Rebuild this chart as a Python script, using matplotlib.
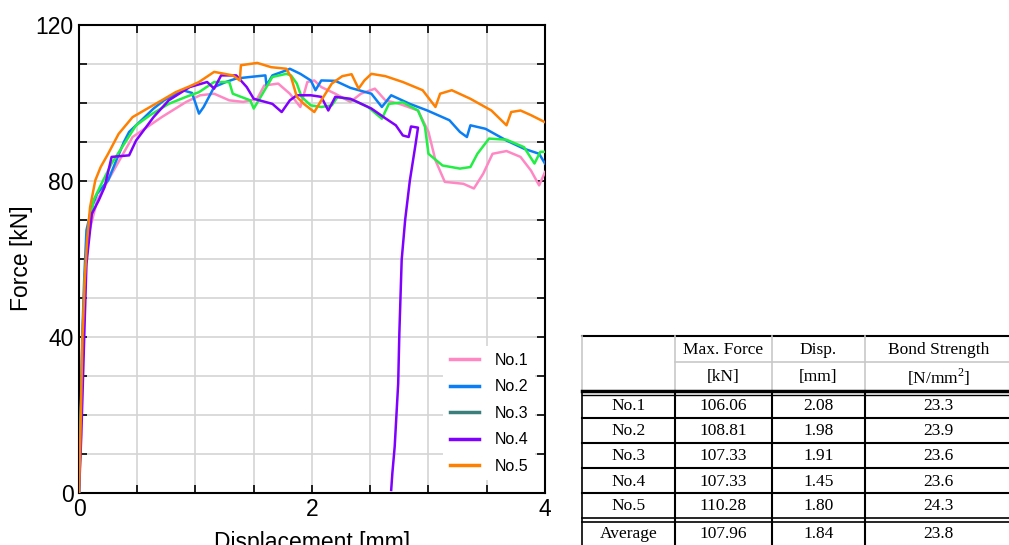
import matplotlib.pyplot as plt
from matplotlib.lines import Line2D
from matplotlib.ticker import MultipleLocator

no1_x = [0, 0.01, 0.02, 0.03, 0.05, 0.08, 0.156, 0.25, 0.46, 0.71, 0.92, 1.04, 1.16, 1.29, 1.41, 1.53, 1.59,
         1.71, 1.81, 1.90, 1.96, 2.02, 2.08, 2.20, 2.33, 2.42, 2.54, 2.63, 2.75, 2.91, 3.0, 3.06, 3.14,
         3.30, 3.39, 3.47, 3.55, 3.67, 3.79, 3.88, 3.95, 4.0]
no1_y = [0, 12, 25, 40, 55, 66, 75, 80.1, 91.2, 96.3, 100.2, 101.9, 102.3, 100.6, 100.2, 101.0, 104.4,
         104.9, 102.3, 98.9, 105.3, 105.7, 104.0, 102.3, 100.2, 102.3, 103.6, 100.6, 99.7, 98.0, 92.5, 85.2, 79.7,
         79.2, 78.0, 81.8, 86.9, 87.6, 86.1, 82.6, 78.8, 82.2]

no2_x = [0, 0.01, 0.02, 0.03, 0.045, 0.064, 0.11, 0.156, 0.25, 0.385, 0.43, 0.55, 0.64, 0.73, 0.89, 0.97,
         1.03, 1.07, 1.16, 1.26, 1.35, 1.47, 1.60, 1.61, 1.66, 1.78, 1.81, 1.90, 1.99, 2.03, 2.08, 2.20,
         2.33, 2.51, 2.60, 2.68, 2.84, 2.99, 3.18, 3.27, 3.33, 3.36, 3.49, 3.67, 3.82, 3.95, 4.0]
no2_y = [0, 14, 28, 42, 55, 67.3, 73.2, 76.7, 80.1, 89.9, 92.5, 95.9, 98.5, 100.6, 103.2, 102.5,
         97.2, 98.9, 104.0, 105.3, 106.2, 106.6, 107.0, 104.4, 107.0, 108.3, 108.7, 107.4, 105.7, 103.2, 105.7, 105.6,
         103.8, 102.3, 98.9, 101.9, 99.7, 98.0, 95.5, 92.5, 91.2, 94.2, 93.3, 90.3, 88.2, 86.9, 84.4]

no3_x = [0, 0.01, 0.02, 0.035, 0.05, 0.08, 0.125, 0.186, 0.28, 0.49, 0.61, 0.77, 0.92, 1.03, 1.16, 1.29,
         1.32, 1.47, 1.50, 1.56, 1.66, 1.78, 1.82, 1.87, 1.91, 1.99, 2.08, 2.17, 2.22, 2.36, 2.48, 2.60,
         2.66, 2.78, 2.91, 2.97, 3.0, 3.12, 3.27, 3.36, 3.42, 3.52, 3.67, 3.82, 3.91, 3.96, 4.0]
no3_y = [0, 10, 24, 40, 55, 66, 75, 78.8, 84.4, 94.2, 96.8, 99.7, 101.5, 102.7, 105.3, 105.3,
         102.3, 100.6, 98.5, 101.5, 106.6, 107.4, 107.0, 104.9, 101.5, 99.3, 98.9, 99.3, 101.5, 100.6, 98.9, 95.9,
         99.7, 100.1, 98.0, 93.8, 86.9, 83.9, 83.1, 83.5, 86.9, 90.8, 90.5, 88.6, 84.4, 87.4, 87.4]

no4_x = [0, 0.02, 0.035, 0.05, 0.064, 0.11, 0.17, 0.22, 0.28, 0.43, 0.49, 0.64, 0.77, 0.95, 1.10, 1.16,
         1.22, 1.35, 1.44, 1.50, 1.66, 1.74, 1.81, 1.87, 1.99, 2.08, 2.14, 2.20, 2.33, 2.51, 2.63, 2.72,
         2.78, 2.83, 2.85, 2.91, 2.89, 2.84, 2.80, 2.77, 2.75, 2.74, 2.71, 2.69, 2.68]
no4_y = [0, 15, 30, 45, 58.7, 71.5, 75, 78.4, 86.1, 86.5, 90.3, 96.3, 100.6, 104.0, 105.3, 103.6,
         107.0, 107.0, 104.0, 101.0, 99.7, 97.6, 100.6, 101.9, 101.9, 101.5, 98.0, 101.5, 101.0, 98.5, 96.0, 94.2,
         91.6, 91.2, 93.9, 93.6, 89.5, 80.0, 70.0, 59.7, 40.9, 28.0, 11.8, 5.0, 0.7]

no5_x = [0, 0.01, 0.02, 0.03, 0.05, 0.07, 0.095, 0.14, 0.186, 0.25, 0.34, 0.46, 0.61, 0.71, 0.83, 0.95,
         1.03, 1.16, 1.32, 1.38, 1.39, 1.53, 1.65, 1.78, 1.82, 1.87, 1.93, 2.02, 2.08, 2.17, 2.26, 2.34,
         2.40, 2.45, 2.51, 2.63, 2.78, 2.95, 3.06, 3.10, 3.20, 3.36, 3.54, 3.67, 3.71, 3.79, 3.88, 4.0]
no5_y = [0, 12, 26, 40, 55, 65, 73.2, 80.1, 83.5, 86.9, 92.0, 96.3, 98.9, 100.6, 102.7, 104.2,
         105.3, 107.9, 107.0, 105.7, 109.6, 110.2, 109.1, 108.7, 106.6, 101.5, 99.7, 97.6, 100.6, 104.9, 106.8, 107.3,
         103.6, 105.7, 107.4, 106.8, 105.3, 103.2, 98.9, 102.3, 103.2, 101.0, 98.0, 94.2, 97.6, 98.0, 96.8, 95.0]

series_names = ["No.1", "No.2", "No.3", "No.4", "No.5"]
line_colors = ["#ff88c4", "#0a7ff5", "#22ee44", "#8000ff", "#ff8000"]
legend_colors = ["#ff88c4", "#0a7ff5", "#3a7f7c", "#8000ff", "#ff8000"]

# table contents
table_header1 = ["", "Max. Force", "Disp.", "Bond Strength"]
table_header2 = ["", "[kN]", "[mm]", "[N/mm$^{\\mathregular{2}}$]"]
table_rows = ["No.1", "No.2", "No.3", "No.4", "No.5"]
max_force = ["106.06", "108.81", "107.33", "107.33", "110.28"]
disp = ["2.08", "1.98", "1.91", "1.45", "1.80"]
bond = ["23.3", "23.9", "23.6", "23.6", "24.3"]
average = ["Average", "107.96", "1.84", "23.8"]

fig = plt.figure(figsize=(10.09, 5.45), dpi=100)
ax = fig.add_axes([0.0783, 0.096, 0.4618, 0.8587])

curves = [(no1_x, no1_y), (no2_x, no2_y), (no3_x, no3_y), (no4_x, no4_y), (no5_x, no5_y)]
for (xs, ys), c in zip(curves, line_colors):
    ax.plot(xs, ys, color=c, lw=1.8, zorder=3)

ax.set_xlim(0, 4)
ax.set_ylim(0, 120)
ax.xaxis.set_major_locator(MultipleLocator(2))
ax.xaxis.set_minor_locator(MultipleLocator(0.5))
ax.yaxis.set_major_locator(MultipleLocator(40))
ax.yaxis.set_minor_locator(MultipleLocator(10))
ax.grid(which="both", color="#d4d4d4", lw=1.2, zorder=0)
ax.tick_params(which="both", direction="in", top=True, right=True, length=6, width=1.2,
               labelsize=16.5, pad=4)
for lab in ax.get_xticklabels() + ax.get_yticklabels():
    lab.set_family("Liberation Sans")
for s in ax.spines.values():
    s.set_linewidth(1.5)
ax.set_xlabel("Displacement [mm]", fontsize=16.5, family="Liberation Sans", labelpad=7)
ax.set_ylabel("Force [kN]", fontsize=16.5, family="Liberation Sans", labelpad=2)

handles = [Line2D([], [], color=c, lw=2.5) for c in legend_colors]
leg = ax.legend(handles, series_names, loc="lower right", bbox_to_anchor=(0.995, 0.01),
                frameon=True, fancybox=False, edgecolor="none", framealpha=1,
                prop={"family": "Liberation Sans", "size": 11.5}, handlelength=1.8,
                labelspacing=0.72, handletextpad=1.0)

# table drawn in pixel coordinates
tab = fig.add_axes([0, 0, 1, 1])
tab.set_xlim(0, 1009)
tab.set_ylim(545, 0)
tab.axis("off")

col_edges = [582, 675, 772, 865, 1012]
col_centers = [(a + b) / 2 for a, b in zip(col_edges[:-1], col_edges[1:])]
body_lines = [418, 443, 468, 493]
tfont = dict(family="Liberation Serif", fontsize=12.5, ha="center", va="center")

tab.plot([col_edges[0], col_edges[-1]], [336, 336], color="black", lw=1.5)
tab.plot([col_edges[1], col_edges[-1]], [362, 362], color="#c8c8c8", lw=1.2)
for x in col_edges[:-1]:
    tab.plot([x, x], [336, 392], color="#c8c8c8", lw=1.2)
tab.plot([col_edges[0], col_edges[-1]], [391, 391], color="black", lw=2.5)
tab.plot([col_edges[0], col_edges[-1]], [394.5, 394.5], color="black", lw=1.0)
for y in body_lines:
    tab.plot([col_edges[0], col_edges[-1]], [y, y], color="black", lw=1.5)
tab.plot([col_edges[0], col_edges[-1]], [518, 518], color="black", lw=1.2)
tab.plot([col_edges[0], col_edges[-1]], [521.5, 521.5], color="black", lw=1.2)
for x in col_edges[:-1]:
    tab.plot([x, x], [393, 545], color="black", lw=1.2 if x == col_edges[0] else 1.5)

for i, (h1, h2) in enumerate(zip(table_header1, table_header2)):
    tab.text(col_centers[i], 350, h1, **tfont)
    tab.text(col_centers[i], 377, h2, **tfont)

row_y = [406, 431, 456, 481.5, 506.5]
for j, name in enumerate(table_rows):
    vals = [name, max_force[j], disp[j], bond[j]]
    for i, v in enumerate(vals):
        tab.text(col_centers[i], row_y[j], v, **tfont)
for i, v in enumerate(average):
    tab.text(col_centers[i], 534, v, **tfont)

fig.savefig("out.png", dpi=100)
